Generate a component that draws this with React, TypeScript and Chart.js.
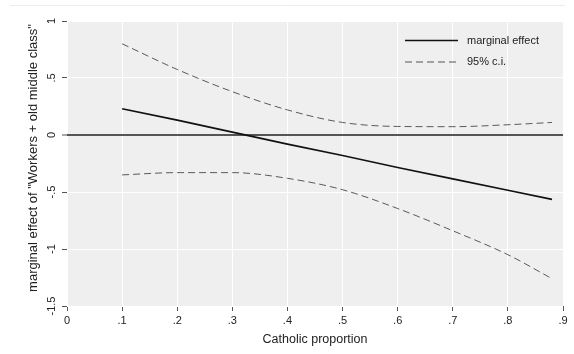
import React, { useEffect, useRef } from 'react';
import { Chart, registerables } from 'chart.js';

Chart.register(...registerables);

// ---- data ----
const xValues = [0.1, 0.2, 0.3, 0.4, 0.5, 0.6, 0.7, 0.8, 0.88];
const marginalEffect = [0.23, 0.13, 0.025, -0.08, -0.18, -0.285, -0.385, -0.485, -0.565];
const ciUpper = [0.8, 0.575, 0.38, 0.22, 0.11, 0.075, 0.073, 0.09, 0.11];
const ciLower = [-0.35, -0.33, -0.33, -0.38, -0.48, -0.645, -0.84, -1.05, -1.26];
const xTicks = [0, 0.1, 0.2, 0.3, 0.4, 0.5, 0.6, 0.7, 0.8, 0.9];
const yTicks = [-1.5, -1, -0.5, 0, 0.5, 1];
const legendLabels = ['marginal effect', '95% c.i.'];
const xTitle = 'Catholic proportion';
const yTitle = 'marginal effect of "Workers + old middle class"';

const FONT = '"Liberation Sans", Arial, Helvetica, sans-serif';
const TEXT = '#222';

function fmt(v: number): string {
  const r = Math.round(v * 10) / 10;
  if (r === 0) return '0';
  return String(r).replace(/^(-?)0\./, '$1.');
}

const bgPlugin = {
  id: 'bgPlugin',
  beforeDraw(chart: any) {
    const { ctx, chartArea } = chart;
    ctx.save();
    ctx.fillStyle = '#efefef';
    ctx.fillRect(chartArea.left, chartArea.top, chartArea.right - chartArea.left, chartArea.bottom - chartArea.top);
    ctx.strokeStyle = '#ececec';
    ctx.lineWidth = 1;
    ctx.beginPath();
    ctx.moveTo(10, 5.5);
    ctx.lineTo(565, 5.5);
    ctx.stroke();
    ctx.restore();
  },
  afterDraw(chart: any) {
    const { ctx, chartArea } = chart;
    const x0 = chartArea.left + 338;
    const x1 = chartArea.left + 391;
    const tx = chartArea.left + 400;
    const y0 = chartArea.top + 19.5;
    const y1 = chartArea.top + 41;
    ctx.save();
    ctx.lineWidth = 1.6;
    ctx.strokeStyle = '#111';
    ctx.beginPath();
    ctx.moveTo(x0, y0);
    ctx.lineTo(x1, y0);
    ctx.stroke();
    ctx.lineWidth = 1;
    ctx.strokeStyle = '#555';
    ctx.setLineDash([7, 4]);
    ctx.beginPath();
    ctx.moveTo(x0, y1);
    ctx.lineTo(x1, y1);
    ctx.stroke();
    ctx.setLineDash([]);
    ctx.fillStyle = TEXT;
    ctx.font = `11px ${FONT}`;
    ctx.textBaseline = 'middle';
    ctx.textAlign = 'left';
    ctx.fillText(legendLabels[0], tx, y0);
    ctx.fillText(legendLabels[1], tx, y1);
    // y-axis title
    ctx.translate(chartArea.left - 34, chartArea.top + 137);
    ctx.rotate(-Math.PI / 2);
    ctx.font = `13px ${FONT}`;
    ctx.textAlign = 'center';
    ctx.fillText(yTitle, 0, 0);
    ctx.restore();
  },
};

export default function App() {
  const ref = useRef<HTMLCanvasElement | null>(null);
  useEffect(() => {
    document.body.style.margin = '0';
    const canvas = ref.current;
    if (!canvas) return;
    const chart = new Chart(canvas, {
      type: 'line',
      data: {
        datasets: [
          {
            label: legendLabels[0],
            data: xValues.map((x, i) => ({ x, y: marginalEffect[i] })),
            borderColor: '#111',
            borderWidth: 1.7,
            pointRadius: 0,
            tension: 0,
          },
          {
            label: legendLabels[1],
            data: xValues.map((x, i) => ({ x, y: ciUpper[i] })),
            borderColor: '#5a5a5a',
            borderWidth: 1,
            borderDash: [7, 4],
            pointRadius: 0,
            cubicInterpolationMode: 'monotone',
          },
          {
            label: legendLabels[1] + ' lower',
            data: xValues.map((x, i) => ({ x, y: ciLower[i] })),
            borderColor: '#5a5a5a',
            borderWidth: 1,
            borderDash: [7, 4],
            pointRadius: 0,
            cubicInterpolationMode: 'monotone',
          },
        ],
      },
      options: {
        animation: false,
        responsive: false,
        devicePixelRatio: 1,
        layout: { padding: { left: 0, right: 11, top: 21, bottom: 0 } },
        plugins: { legend: { display: false }, tooltip: { enabled: false } },
        scales: {
          x: {
            type: 'linear',
            min: 0,
            max: 0.9,
            afterBuildTicks: (s: any) => {
              s.ticks = xTicks.map((v) => ({ value: v }));
            },
            afterFit: (s: any) => {
              s.height = 48;
            },
            ticks: {
              callback: (v: any) => fmt(Number(v)),
              font: { family: FONT, size: 11 },
              color: TEXT,
              padding: 3,
              maxRotation: 0,
              minRotation: 0,
            },
            grid: {
              color: '#ffffff',
              lineWidth: 1,
              tickColor: '#555',
              tickLength: 5,
              tickWidth: 1,
            },
            border: { display: false },
            title: {
              display: true,
              text: xTitle,
              font: { family: FONT, size: 12.5 },
              color: TEXT,
              padding: { top: 0, bottom: 7 },
            },
          },
          y: {
            type: 'linear',
            min: -1.5,
            max: 1,
            afterBuildTicks: (s: any) => {
              s.ticks = yTicks.map((v) => ({ value: v }));
            },
            afterFit: (s: any) => {
              s.width = 67;
            },
            ticks: {
              callback: (v: any) => fmt(Number(v)),
              font: { family: FONT, size: 11 },
              color: TEXT,
              padding: 1,
              minRotation: 90,
              maxRotation: 90,
              crossAlign: 'center',
            },
            grid: {
              color: (c: any) => (c.tick && c.tick.value === 0 ? '#555' : '#ffffff'),
              lineWidth: (c: any) => (c.tick && c.tick.value === 0 ? 2 : 1),
              tickColor: '#555',
              tickLength: 5,
              tickWidth: 1,
            },
            border: { display: false },
            title: { display: false },
          },
        },
      },
      plugins: [bgPlugin],
    } as any);
    return () => chart.destroy();
  }, []);
  return (
    <div style={{ width: 574, height: 354, position: 'relative' }}>
      <canvas ref={ref} width={574} height={354} style={{ display: 'block' }} />
    </div>
  );
}
